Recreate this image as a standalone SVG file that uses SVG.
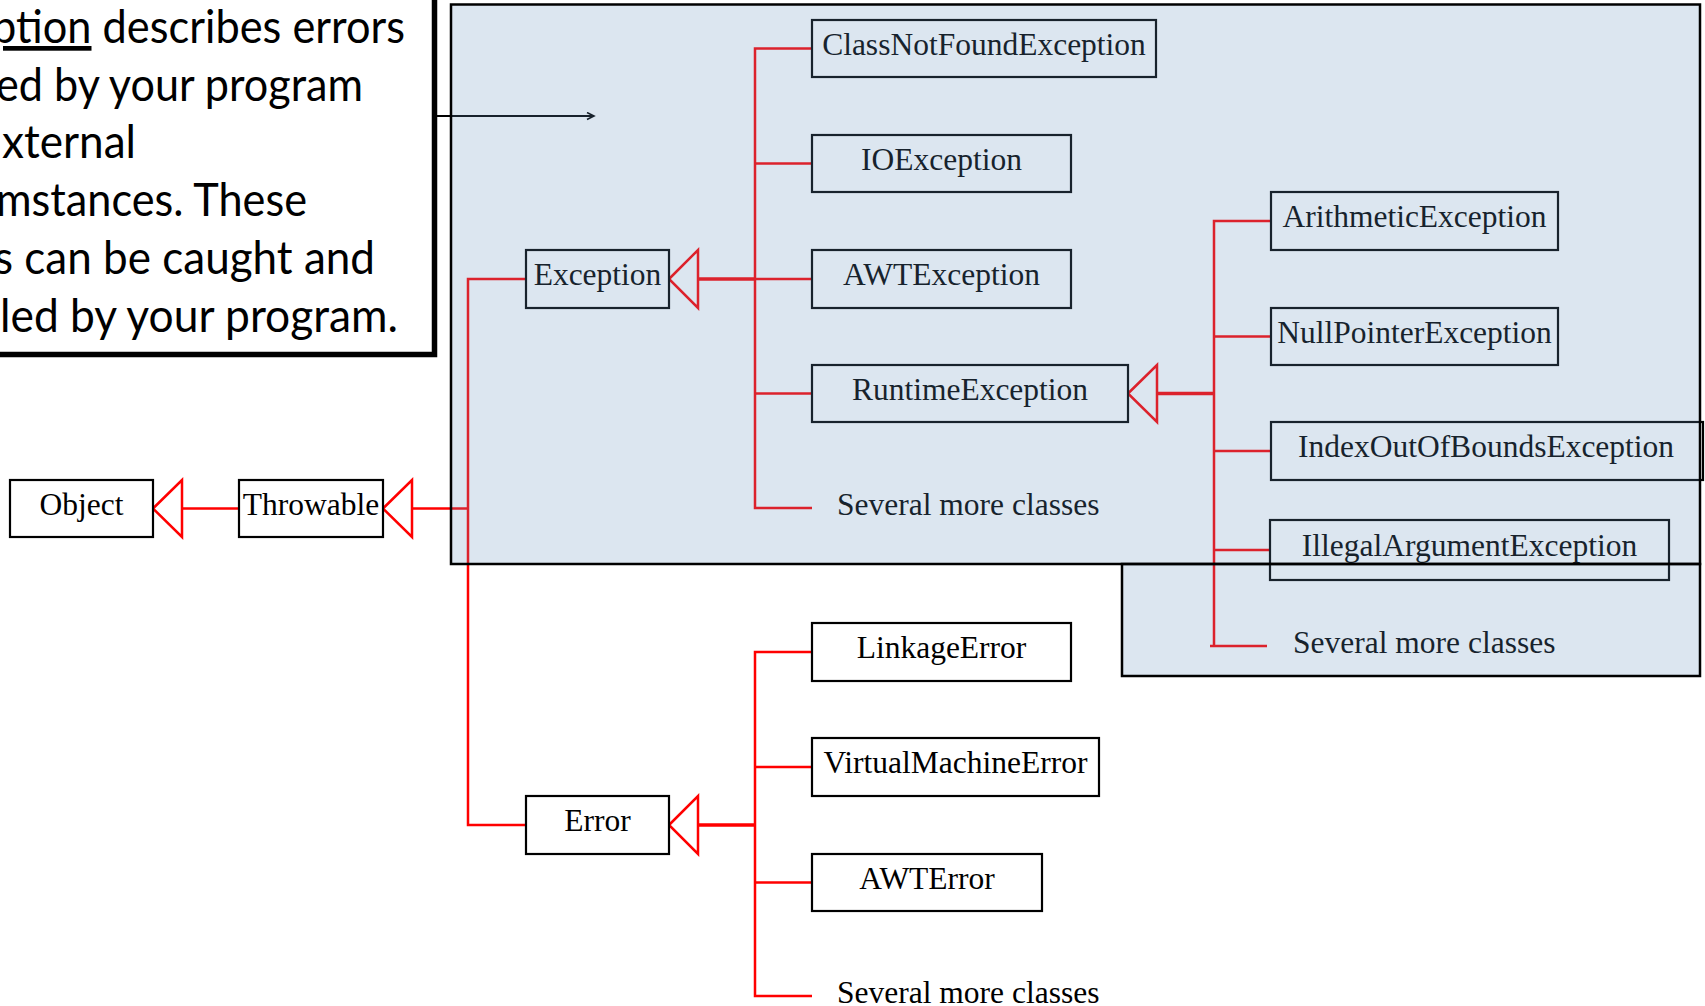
<svg xmlns="http://www.w3.org/2000/svg" width="1705" height="1006" viewBox="0 0 1705 1006">
<style>
.box{fill:#fff;stroke:#000;stroke-width:2.2}
.lbl{font-family:"Liberation Serif","Times New Roman",serif;font-size:31.5px;fill:#000;text-anchor:middle}
.more{font-family:"Liberation Serif","Times New Roman",serif;font-size:31.5px;fill:#000}
.note{font-family:Lato,"Open Sans",sans-serif;font-size:47px;fill:#000}
.conn{stroke:#f00;stroke-width:2.5;fill:none}
.thick{stroke:#f00;stroke-width:3.5;fill:none}
.tri{fill:#fff;stroke:#f00;stroke-width:2.5;stroke-linejoin:miter}
.panel{fill:#6894bf;fill-opacity:0.23;stroke:#000;stroke-width:2.5}
</style>
<defs>
<marker id="open" markerWidth="10" markerHeight="10" refX="8" refY="4" orient="auto" markerUnits="userSpaceOnUse">
<path d="M1,0.5 L8,4 L1,7.5" fill="none" stroke="#000" stroke-width="1.6"/>
</marker>
</defs>
<rect width="1705" height="1006" fill="#fff"/>

<g id="note">
<rect x="-10" y="-10" width="444.5" height="364.5" fill="#fff" stroke="#000" stroke-width="5.5"/>
<text class="note" x="-8" y="43" textLength="413" lengthAdjust="spacingAndGlyphs"><tspan text-decoration="underline">ption</tspan> describes errors</text>
<text class="note" x="-4" y="101" textLength="367" lengthAdjust="spacingAndGlyphs">ed by your program</text>
<text class="note" x="2" y="158" textLength="134" lengthAdjust="spacingAndGlyphs">xternal</text>
<text class="note" x="-4" y="216" textLength="311" lengthAdjust="spacingAndGlyphs">mstances. These</text>
<text class="note" x="-6" y="274" textLength="381" lengthAdjust="spacingAndGlyphs">s can be caught and</text>
<text class="note" x="0" y="332" textLength="398" lengthAdjust="spacingAndGlyphs">led by your program.</text>
</g>

<g id="connectors">
<line x1="437" y1="116" x2="594" y2="116" stroke="#000" stroke-width="1.8" marker-end="url(#open)"/>
<line class="conn" x1="182" y1="508.5" x2="239" y2="508.5"/>
<line class="conn" x1="412" y1="508.5" x2="468" y2="508.5"/>
<polyline class="conn" points="526,279 468,279 468,825 526,825"/>
<line class="thick" x1="698" y1="279" x2="755" y2="279"/>
<line class="conn" x1="755" y1="279" x2="812" y2="279"/>
<polyline class="conn" points="812,48.5 755,48.5 755,508 812,508"/>
<line class="conn" x1="755" y1="163.5" x2="812" y2="163.5"/>
<line class="conn" x1="755" y1="393.5" x2="812" y2="393.5"/>
<line class="thick" x1="1157" y1="393.5" x2="1214" y2="393.5"/>
<polyline class="conn" points="1271,221 1214,221 1214,646"/>
<line class="conn" x1="1214" y1="336.5" x2="1271" y2="336.5"/>
<line class="conn" x1="1214" y1="451" x2="1271" y2="451"/>
<line class="conn" x1="1214" y1="550" x2="1270" y2="550"/>
<line class="conn" x1="1210" y1="646" x2="1267" y2="646"/>
<line class="thick" x1="698" y1="825" x2="755" y2="825"/>
<polyline class="conn" points="812,652 755,652 755,996 812,996"/>
<line class="conn" x1="755" y1="767" x2="812" y2="767"/>
<line class="conn" x1="755" y1="882.5" x2="812" y2="882.5"/>
<polygon class="tri" points="153,508.5 182,480 182,537"/>
<polygon class="tri" points="383,508.5 412,480 412,537"/>
<polygon class="tri" points="669,279 698,250 698,308"/>
<polygon class="tri" points="669,825 698,796 698,854"/>
<polygon class="tri" points="1128,393.5 1157,365 1157,422"/>
</g>

<g id="object"><rect class="box" x="10" y="480" width="143" height="57"/><text class="lbl" x="81.5" y="514.5">Object</text></g>
<g id="throwable"><rect class="box" x="239" y="480" width="144" height="57"/><text class="lbl" x="311" y="514.5">Throwable</text></g>
<g id="exception"><rect class="box" x="526" y="250" width="143" height="58"/><text class="lbl" x="597.5" y="285">Exception</text></g>
<g id="error"><rect class="box" x="526" y="796" width="143" height="58"/><text class="lbl" x="597.5" y="831">Error</text></g>
<g id="classnotfound"><rect class="box" x="812" y="20" width="344" height="57"/><text class="lbl" x="984" y="55">ClassNotFoundException</text></g>
<g id="ioexception"><rect class="box" x="812" y="135" width="259" height="57"/><text class="lbl" x="941.5" y="170">IOException</text></g>
<g id="awtexception"><rect class="box" x="812" y="250" width="259" height="58"/><text class="lbl" x="941.5" y="285">AWTException</text></g>
<g id="runtime"><rect class="box" x="812" y="365" width="316" height="57"/><text class="lbl" x="970" y="400">RuntimeException</text></g>
<g id="more1"><text class="more" x="837" y="515">Several more classes</text></g>
<g id="arithmetic"><rect class="box" x="1271" y="192" width="287" height="58"/><text class="lbl" x="1414.5" y="227">ArithmeticException</text></g>
<g id="nullpointer"><rect class="box" x="1271" y="308" width="287" height="57"/><text class="lbl" x="1414.5" y="343">NullPointerException</text></g>
<g id="indexoutofbounds"><rect class="box" x="1271" y="422" width="432" height="58"/><text class="lbl" x="1486" y="457">IndexOutOfBoundsException</text></g>
<g id="illegalargument"><rect class="box" x="1270" y="520" width="399" height="60"/><text class="lbl" x="1469.5" y="556">IllegalArgumentException</text></g>
<g id="more2"><text class="more" x="1293" y="653">Several more classes</text></g>
<g id="linkage"><rect class="box" x="812" y="623" width="259" height="58"/><text class="lbl" x="941.5" y="658">LinkageError</text></g>
<g id="virtualmachine"><rect class="box" x="812" y="738" width="287" height="58"/><text class="lbl" x="955.5" y="773">VirtualMachineError</text></g>
<g id="awterror"><rect class="box" x="812" y="854" width="230" height="57"/><text class="lbl" x="927" y="889">AWTError</text></g>
<g id="more3"><text class="more" x="837" y="1003">Several more classes</text></g>

<g id="panel">
<rect class="panel" x="451" y="4.5" width="1249" height="559.5"/>
<rect class="panel" x="1122" y="564" width="578" height="112"/>
</g>
</svg>
